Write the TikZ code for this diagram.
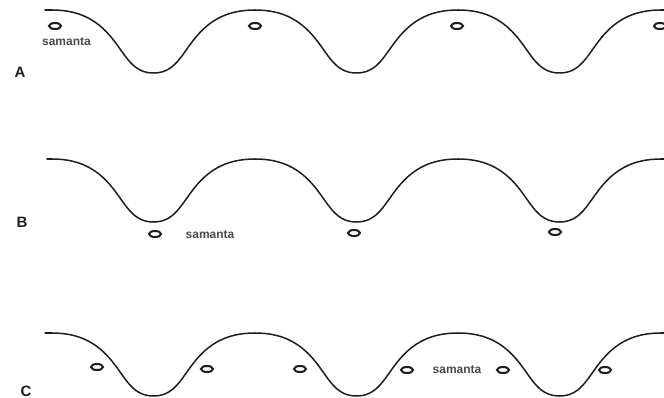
\documentclass[tikz,border=0pt]{standalone}
\usepackage{fontspec}
\setmainfont{Liberation Sans}
\usetikzlibrary{shapes.geometric}
\definecolor{trazo}{HTML}{1E1E1E}
\definecolor{texto}{HTML}{4A4A4A}

\begin{document}
\begin{tikzpicture}[x=1pt, y=-1pt,
    onda/.style={draw=trazo, line width=1.5pt, line cap=round},
    marca/.style={ellipse, draw=trazo, line width=2pt, minimum width=12pt,
                  minimum height=6pt, inner sep=0pt},
    etiqueta/.style={anchor=base, text=texto, inner sep=0pt,
                     font=\fontsize{12}{14}\selectfont\bfseries},
    letra/.style={anchor=base, text=trazo, inner sep=0pt,
                  font=\fontsize{15}{17}\selectfont\bfseries}]
  \useasboundingbox (0,0) rectangle (664,398);

  % fila A
  \begin{scope}[shift={(0,10)}]
    \draw[onda] (45,0) -- (52,0);
    \foreach \p in {52,255,458}
      \draw[onda, shift={(\p,0)}] (0,0) .. controls (30,0) and (48,12) .. (63,32)
        .. controls (75,48) and (82,63) .. (101.5,63)
        .. controls (121,63) and (128,48) .. (140,32)
        .. controls (155,12) and (173,0) .. (203,0);
    \draw[onda] (661,0) -- (664,0);
  \end{scope}
  \node[marca] (a1) at (55,26) {};
  \node[marca] (a2) at (255,26) {};
  \node[marca] (a3) at (457,26) {};
  \node[marca] (a4) at (660,26) {};
  \node[etiqueta] (sa) at (66.5,46) {samanta};
  \node[letra] (la) at (20,78) {A};

  % fila B
  \begin{scope}[shift={(0,159)}]
    \draw[onda] (47,0) -- (52,0);
    \foreach \p in {52,255,458}
      \draw[onda, shift={(\p,0)}] (0,0) .. controls (30,0) and (48,12) .. (63,32)
        .. controls (75,48) and (82,63) .. (101.5,63)
        .. controls (121,63) and (128,48) .. (140,32)
        .. controls (155,12) and (173,0) .. (203,0);
    \draw[onda] (661,0) -- (664,0);
  \end{scope}
  \node[marca] (b1) at (155,234) {};
  \node[marca] (b2) at (354,233) {};
  \node[marca] (b3) at (555,232) {};
  \node[etiqueta] (sb) at (210,239) {samanta};
  \node[letra] (lb) at (22,228) {B};

  % fila C
  \begin{scope}[shift={(0,333)}]
    \draw[onda] (45,0) -- (52,0);
    \foreach \p in {52,255,458}
      \draw[onda, shift={(\p,0)}] (0,0) .. controls (30,0) and (48,12) .. (63,32)
        .. controls (75,48) and (82,63) .. (101.5,63)
        .. controls (121,63) and (128,48) .. (140,32)
        .. controls (155,12) and (173,0) .. (203,0);
    \draw[onda] (661,0) -- (664,0);
  \end{scope}
  \node[marca] (c1) at (97,367) {};
  \node[marca] (c2) at (207,369) {};
  \node[marca] (c3) at (300,369) {};
  \node[marca] (c4) at (407,370) {};
  \node[marca] (c5) at (503,370) {};
  \node[marca] (c6) at (605,370) {};
  \node[etiqueta] (sc) at (457,373) {samanta};
  \node[letra] (lc) at (26,396) {C};
\end{tikzpicture}
\end{document}
